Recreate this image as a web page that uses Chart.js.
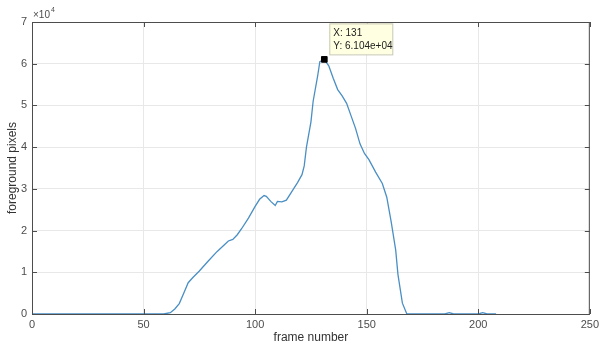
<!DOCTYPE html>
<html>
<head>
<meta charset="utf-8">
<script src="https://cdn.jsdelivr.net/npm/chart.js@4/dist/chart.umd.min.js"></script>
<style>
	body { margin: 0; background: #fff; }
	#wrap { width: 603px; height: 345px; }
</style>
</head>
<body>
<div id="wrap"><canvas id="fg-chart"></canvas></div>
<script>
// frame number vs foreground pixel count
const frames = [0, 59, 62, 64, 66, 68, 70, 72, 75, 79, 83, 86, 88, 90, 92, 94, 97, 100, 102, 104, 105, 107, 109, 110, 112, 114, 117, 119, 121, 122, 123, 125, 126, 128, 129, 131, 133, 135, 137, 139, 141, 143, 145, 147, 149, 151, 154, 157, 159, 160, 161, 163, 164, 166, 168, 185, 187, 189, 200, 202, 204, 208]
const pixels = [0, 0, 300, 1200, 2500, 5000, 7500, 8700, 10300, 12700, 15000, 16500, 17500, 17900, 19000, 20500, 23000, 25800, 27500, 28400, 28200, 27000, 26000, 27000, 26900, 27300, 29800, 31500, 33400, 35500, 40000, 46000, 51000, 57000, 60500, 61040, 59500, 56500, 53800, 52300, 50500, 47500, 44500, 40800, 38500, 37000, 34000, 31300, 28000, 25000, 22000, 15300, 9500, 2600, 0, 0, 300, 0, 0, 300, 0, 0]
const xTicks = [0, 50, 100, 150, 200, 250]
const yTicks = [0, 1, 2, 3, 4, 5, 6, 7]
const peak = { x: 131, y: 61040 }

const axisColor = '#4d4d4d'
const fontFamily = '"Liberation Sans", Arial, sans-serif'

const matlabBox = {
	id: 'matlabBox',
	afterDraw(chart) {
		const { ctx, chartArea: a, scales } = chart
		ctx.save()
		ctx.strokeStyle = axisColor
		ctx.lineWidth = 1
		ctx.strokeRect(a.left + 0.5, a.top + 0.5, a.right - a.left - 1, a.bottom - a.top)
		ctx.beginPath()
		xTicks.forEach(v => {
			const px = Math.round(scales.x.getPixelForValue(v)) + 0.5
			ctx.moveTo(px, a.bottom); ctx.lineTo(px, a.bottom - 5)
			ctx.moveTo(px, a.top); ctx.lineTo(px, a.top + 5)
		})
		yTicks.forEach(v => {
			const py = Math.round(scales.y.getPixelForValue(v * 1e4)) + 0.5
			ctx.moveTo(a.left, py); ctx.lineTo(a.left + 5, py)
			ctx.moveTo(a.right, py); ctx.lineTo(a.right - 5, py)
		})
		ctx.stroke()

		// exponent label
		ctx.fillStyle = axisColor
		ctx.font = '10px ' + fontFamily
		ctx.textBaseline = 'alphabetic'
		ctx.fillText('\u00d710', a.left + 1, a.top - 4)
		ctx.font = '7px ' + fontFamily
		ctx.fillText('4', a.left + 19, a.top - 10)

		// data tip
		const px = scales.x.getPixelForValue(peak.x)
		const py = scales.y.getPixelForValue(peak.y)
		const bx = px + 5, by = py - 36, bw = 63, bh = 31
		ctx.fillStyle = '#ffffe1'
		ctx.fillRect(bx, by, bw, bh)
		ctx.strokeStyle = '#c8c8b4'
		ctx.strokeRect(bx + 0.5, by + 0.5, bw, bh)
		ctx.fillStyle = '#222'
		ctx.font = '10px ' + fontFamily
		ctx.fillText('X: ' + peak.x, bx + 4, by + 13)
		ctx.fillText('Y: ' + (peak.y / 1e4).toFixed(3) + 'e+04', bx + 4, by + 26)
		ctx.restore()
	}
}

new Chart('fg-chart', {
	type: 'line',
	data: {
		datasets: [
			{
				data: frames.map((f, i) => ({ x: f, y: pixels[i] })),
				borderColor: '#4a8fc4',
				borderWidth: 1.3,
				pointRadius: 0,
				tension: 0,
				order: 2
			},
			{
				data: [peak],
				showLine: false,
				pointStyle: 'rect',
				pointRadius: 4,
				backgroundColor: '#000',
				borderColor: '#000',
				order: 1
			}
		]
	},
	plugins: [matlabBox],
	options: {
		responsive: true,
		maintainAspectRatio: false,
		animation: false,
		layout: { padding: { top: 22, right: 6, left: 0, bottom: 0 } },
		plugins: { legend: { display: false }, tooltip: { enabled: false } },
		scales: {
			x: {
				type: 'linear',
				min: 0,
				max: 250,
				afterBuildTicks: s => { s.ticks = xTicks.map(v => ({ value: v })) },
				afterFit: s => { s.height = 31 },
				grid: { color: '#e8e8e8', drawTicks: false },
				border: { display: false },
				ticks: { color: axisColor, font: { size: 11, family: fontFamily }, padding: 4, maxRotation: 0 },
				title: { display: true, text: 'frame number', color: '#333', font: { size: 12, family: fontFamily }, padding: { top: 0, bottom: 0 } }
			},
			y: {
				min: 0,
				max: 70000,
				afterBuildTicks: s => { s.ticks = yTicks.map(v => ({ value: v * 1e4 })) },
				afterFit: s => { s.width = 32 },
				grid: { color: '#e8e8e8', drawTicks: false },
				border: { display: false },
				ticks: { color: axisColor, font: { size: 11, family: fontFamily }, padding: 5, callback: v => v / 1e4 },
				title: { display: true, text: 'foreground pixels', color: '#333', font: { size: 12, family: fontFamily }, padding: { top: 5, bottom: 0 } }
			}
		}
	}
})
</script>
</body>
</html>
